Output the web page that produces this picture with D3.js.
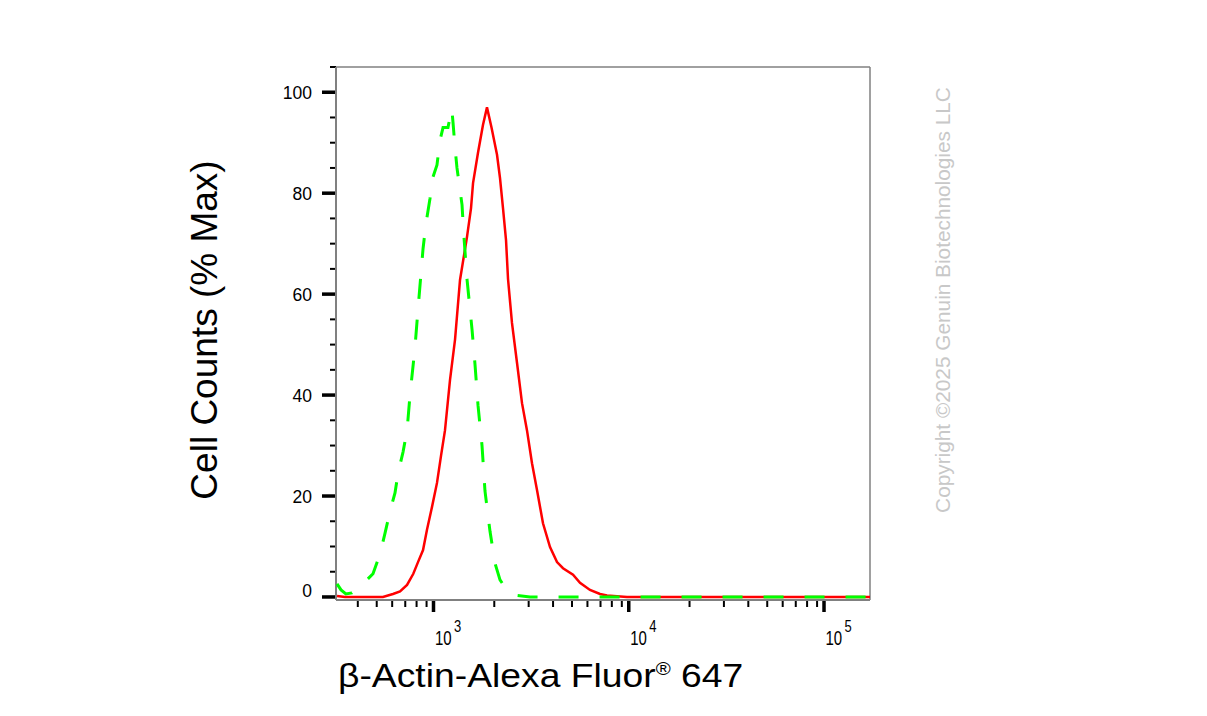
<!DOCTYPE html>
<html><head><meta charset="utf-8">
<script src="https://cdn.jsdelivr.net/npm/d3@7"></script>
<style>body{margin:0;background:#fff;} text{font-family:Arial,"Liberation Sans",Helvetica,sans-serif;}</style>
</head><body><svg id="c" width="1207" height="716"></svg>
<script>
// Fluorescence intensity (x) and % of max cell counts (y)
const redX = [320.5,352,490,551,620,674,732,788,833,884,926,982,1042,1093,1145,1215,1289,1367,1484,1556,1594,1690,1792,1879,1982,2115,2191,2270,2352,2408,2523,2677,2840,3012,3195,3389,3637,3951,4291,4606,5183,5628,6331,7124,7737,9795,172000];
const redY = [0.2,0,0,0,0.6,1.1,2.4,4.6,6.9,9.3,13.3,17.8,22.6,28,33,43,51,62.8,71.3,77,82,88,93.5,97,93,87.6,83,77,70.7,63,54.3,46.4,38.4,33,26.5,21.2,14.6,9.9,6.9,5.7,4.4,2.8,1.4,0.6,0.3,0,0];
const greenX = [320.5,336,356,382,411,451,490,532,565,599,635,658,698,732,758,804,833,884,915,960,982,1042,1080,1119,1186,1240,1259,1289,1319,1367,1400,1424,1484,1575,1632,1690,1772,1835,1947,2065,2191,2408,2677,3121,172000];
const greenY = [2.6,1.4,0.6,0.8,1.7,3.2,4.6,8.5,12.7,17,20.6,24.5,28.7,33,40,49.5,57,69,74,79,82.6,85.6,90.5,93,93,96.8,94,89,85,80.6,77.7,72.7,63,53,46,38,30,21,13,6.7,3.4,1,0.3,0,0];
const yTicks = [0,20,40,60,80,100];
const xTickExps = [3,4,5];
const xTitle = "β-Actin-Alexa Fluor";
const yTitle = "Cell Counts (% Max)";
const watermark = "Copyright ©2025 Genuin Biotechnologies LLC";

const svg = d3.select("#c");
const x = d3.scaleLog().domain([316.7,172000]).range([336,870]);
const y = d3.scaleLinear().domain([-0.6,105]).range([600,67]);

// frame (top + right)
svg.append("line").attr("x1",336).attr("x2",870).attr("y1",67).attr("y2",67).attr("stroke","#808080").attr("stroke-width",1.5);
svg.append("line").attr("x1",870).attr("x2",870).attr("y1",67).attr("y2",600).attr("stroke","#808080").attr("stroke-width",1.5);

// y minor / major ticks
const yMinor = d3.range(0,106,5).filter(v=>v%20!==0);
svg.selectAll(".ymin").data(yMinor).enter().append("line")
  .attr("x1",330).attr("x2",336).attr("y1",d=>y(d)).attr("y2",d=>y(d)).attr("stroke","#000").attr("stroke-width",2);
svg.selectAll(".ymaj").data(yTicks).enter().append("line")
  .attr("x1",322).attr("x2",336).attr("y1",d=>y(d)).attr("y2",d=>y(d)).attr("stroke","#000").attr("stroke-width",3.5);
svg.selectAll(".ylab").data(yTicks).enter().append("text")
  .attr("transform",(d,i)=>`translate(312,${y(d)+(i===0?0.5:6.5)}) scale(1,1.05)`)
  .attr("text-anchor","end").attr("font-size",17.5).attr("fill","#000").text(d=>d);

// x ticks
const [d0,d1] = x.domain();
const xMinor = [];
for (let e=2;e<=5;e++) for (let m=2;m<=9;m++){const v=m*Math.pow(10,e); if(v>=d0&&v<=d1) xMinor.push(v);}
svg.selectAll(".xmin").data(xMinor).enter().append("line")
  .attr("x1",d=>x(d)+2).attr("x2",d=>x(d)+2).attr("y1",600).attr("y2",607).attr("stroke","#000").attr("stroke-width",2);
svg.selectAll(".xmaj").data(xTickExps).enter().append("line")
  .attr("x1",d=>x(Math.pow(10,d))).attr("x2",d=>x(Math.pow(10,d))).attr("y1",600).attr("y2",612).attr("stroke","#000").attr("stroke-width",3.5);
const xl = svg.selectAll(".xlab").data(xTickExps).enter().append("g")
  .attr("transform",d=>`translate(${x(Math.pow(10,d))+1.5},645)`);
xl.append("text").attr("transform","scale(1,1.4)").attr("font-size",15).attr("fill","#000").text("10");
xl.append("text").attr("transform","translate(19,-13) scale(1,1.3)").attr("font-size",13).attr("fill","#000").text(d=>d);

// axis lines
svg.append("line").attr("x1",336).attr("x2",336).attr("y1",67).attr("y2",600).attr("stroke","#808080").attr("stroke-width",2);
svg.append("line").attr("x1",336).attr("x2",870).attr("y1",600).attr("y2",600).attr("stroke","#808080").attr("stroke-width",2);

// curves
const line = d3.line().x(d=>x(d[0])).y(d=>y(d[1]));
svg.append("path").attr("d",line(redX.map((v,i)=>[v,redY[i]]))).attr("fill","none").attr("stroke","#ff0000").attr("stroke-width",2.5);
svg.append("path").attr("d",line(greenX.map((v,i)=>[v,greenY[i]]))).attr("fill","none").attr("stroke","#00ff00").attr("stroke-width",3).attr("stroke-dasharray","20,21");

// titles
const xt = svg.append("text").attr("transform","translate(338,687) scale(1.13,1)").attr("font-size",33).attr("fill","#000");
xt.append("tspan").text(xTitle);
xt.append("tspan").attr("font-size",18).attr("dy",-12).text("®");
xt.append("tspan").attr("dy",12).text(" 647");
svg.append("text").attr("transform","translate(217,330) rotate(-90)").attr("text-anchor","middle").attr("font-size",37).attr("fill","#000").text(yTitle);
svg.append("text").attr("transform","translate(950,300) rotate(-90)").attr("text-anchor","middle").attr("font-size",20.8).attr("fill","#c8c8c8").text(watermark);
</script></body></html>
